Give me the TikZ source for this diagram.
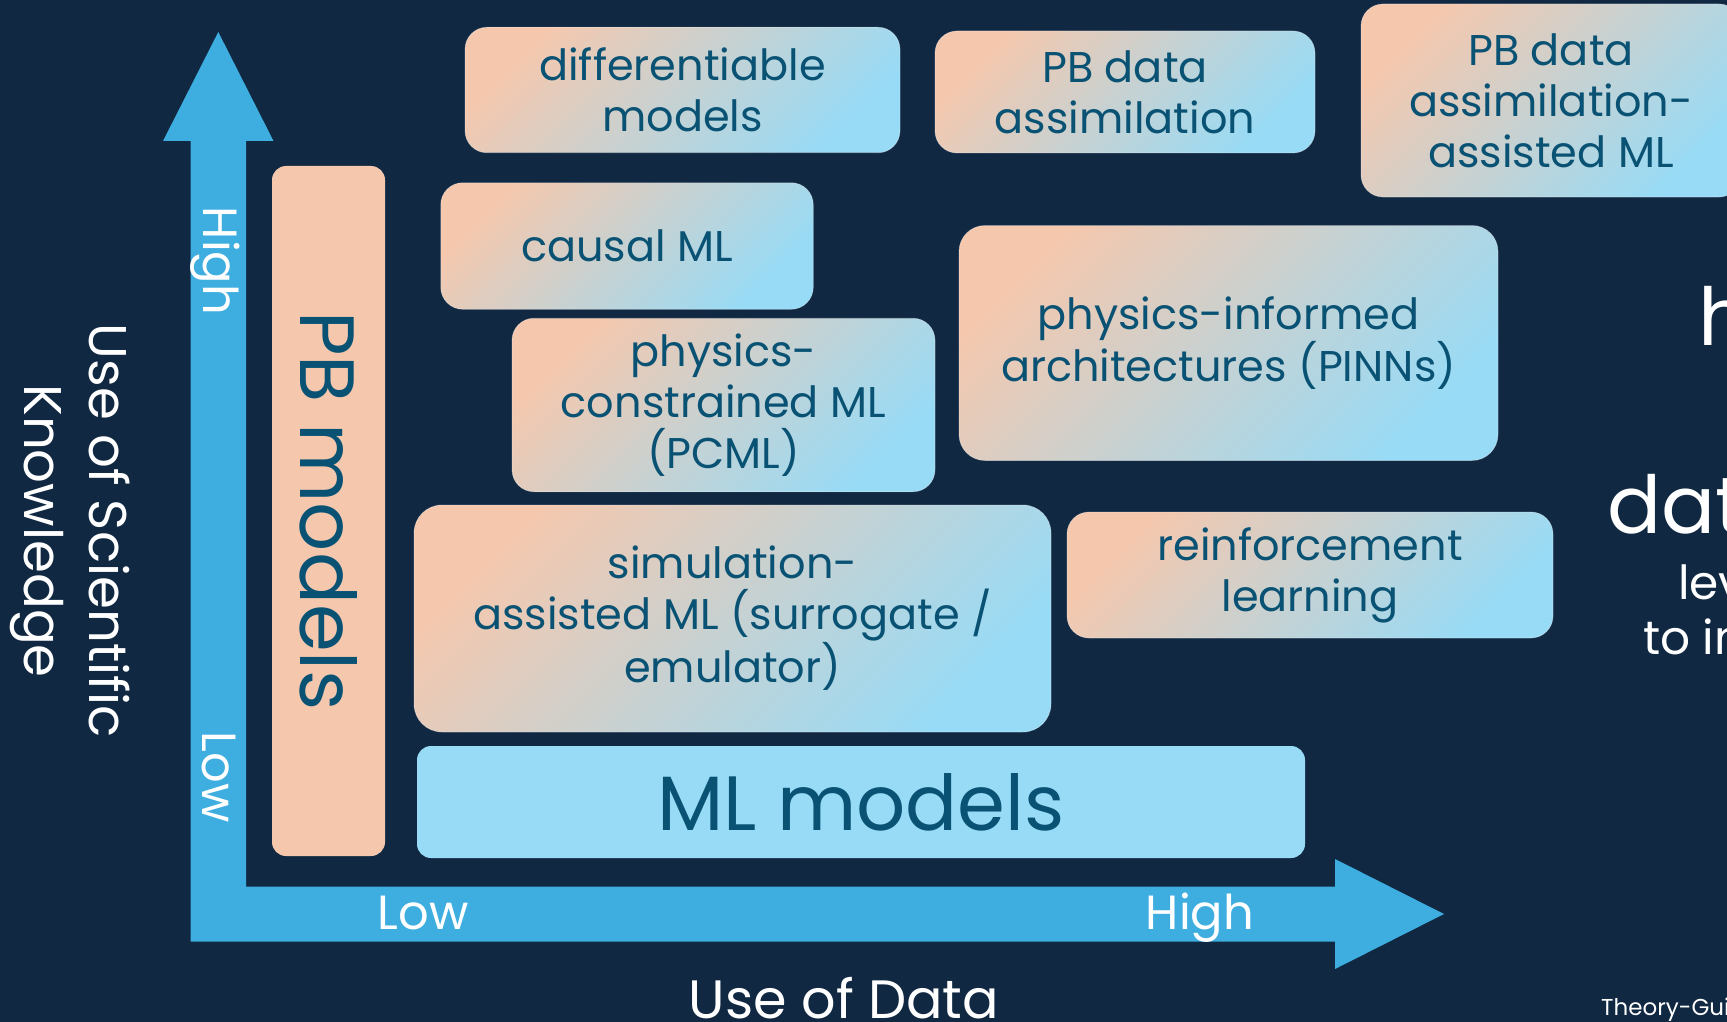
\documentclass[tikz,border=0pt]{standalone}
\usepackage{fontspec}
\setmainfont{Poppins}
\definecolor{bg}{HTML}{102842}
\definecolor{axisblue}{HTML}{3EAEE0}
\definecolor{peach}{HTML}{F5C8AE}
\definecolor{lblue}{HTML}{98DBF6}
\definecolor{ink}{HTML}{095274}
\begin{document}
\begin{tikzpicture}[x=1pt,y=-1pt,
  gbox/.style={rounded corners=22pt, top color=peach, bottom color=lblue, shading angle=45,
    draw=white, draw opacity=0.3, line width=0.8pt, text=ink, align=center, inner sep=0pt,
    font=\fontsize{43}{51}\selectfont},
  sbox/.style={rounded corners=14pt, inner sep=0pt, text=ink, font=\fontsize{77}{90}\selectfont},
  lab/.style={text=white, inner sep=0pt, font=\fontsize{48}{56}\selectfont},
  side/.style={text=white, inner sep=0pt, anchor=base west}]
\useasboundingbox (0,0) rectangle (1727,1022);
\fill[bg] (0,0) rectangle (1727,1022);
\clip (0,0) rectangle (1727,1022);

% axes
\fill[axisblue] (190.5,941.5) -- (190.5,141) -- (163,141) -- (218.3,32) -- (273.5,141)
  -- (246,141) -- (246,886.5) -- (1335,886.5) -- (1335,859) -- (1444,914)
  -- (1335,969) -- (1335,941.5) -- cycle;

\node[lab, rotate=-90, anchor=base] (yhigh) at (203,261) {High};
\node[lab, rotate=-90, anchor=base] (ylow) at (202,777) {Low};
\node[lab, anchor=base] (xlow) at (423,929) {Low};
\node[lab, anchor=base] (xhigh) at (1200,929) {High};

\node[text=white, inner sep=0pt, rotate=-90, align=center, font=\fontsize{53}{65}\selectfont]
  (ylab) at (70.5,531) {Use of Scientific\\Knowledge};
\node[text=white, inner sep=0pt, anchor=base, font=\fontsize{54}{60}\selectfont]
  (xlab) at (844,1018) {Use of Data};

% solid boxes
\node[sbox, fill=peach, rotate=-90, minimum width=690pt, minimum height=113pt] (pb) at (328.5,511) {PB models};
\node[sbox, fill=lblue, minimum width=888pt, minimum height=112pt] (ml) at (861,802) {ML models};

% gradient boxes
\node[gbox, minimum width=435pt, minimum height=125.5pt] (diff) at (682.5,90) {differentiable\\models};
\node[gbox, minimum width=380pt, minimum height=122pt] (pbda) at (1125,92) {PB data\\assimilation};
\node[gbox, minimum width=380pt, minimum height=193pt] (pbdaml) at (1551,100.5) {PB data\\assimilation-\\assisted ML};
\node[gbox, minimum width=372.5pt, minimum height=126.5pt] (causal) at (627,246) {causal ML};
\node[gbox, minimum width=423pt, minimum height=173.5pt] (pcml) at (723.5,405) {physics-\\constrained ML\\(PCML)};
\node[gbox, rounded corners=26pt, minimum width=539pt, minimum height=235pt] (pinn) at (1228.5,343) {physics-informed\\architectures (PINNs)};
\node[gbox, rounded corners=28pt, minimum width=637pt, minimum height=227pt] (sim) at (732.5,618.5) {\raisebox{-3pt}{\parbox{600pt}{\centering simulation-\\assisted ML (surrogate /\\emulator)}}};
\node[gbox, minimum width=486pt, minimum height=126pt] (rl) at (1310,575) {reinforcement\\learning};

% cut-off text on the right edge
\node[side, font=\fontsize{80}{90}\selectfont] (rh) at (1698,345) {h};
\node[side, font=\fontsize{80}{90}\selectfont] (rdata) at (1607,533) {data};
\node[side, font=\fontsize{47}{55}\selectfont] (rlev) at (1678,599) {level};
\node[side, font=\fontsize{47}{55}\selectfont] (rto) at (1643,654) {to in};
\node[side, font=\fontsize{23}{26}\selectfont] (rtheory) at (1601,1015) {Theory-Guided};
\end{tikzpicture}
\end{document}
